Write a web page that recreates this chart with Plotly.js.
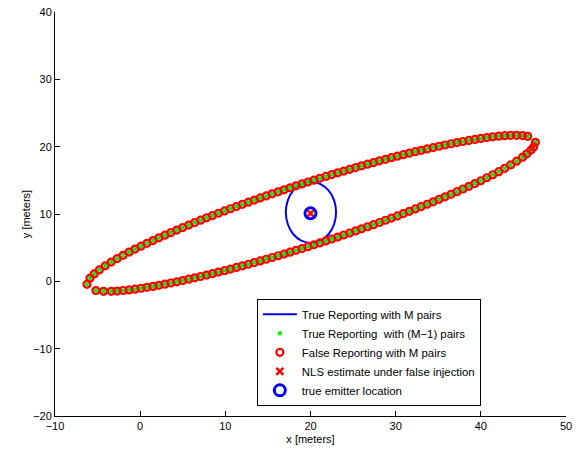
<!DOCTYPE html>
<html>
<head>
<meta charset="utf-8">
<script src="https://cdn.plot.ly/plotly-3.0.1.min.js"></script>
<style>html,body{margin:0;padding:0;background:#fff;}#chart{width:585px;height:450px;}</style>
</head>
<body>
<div id="chart"></div>
<script>
// Upper edge of the false-reporting locus (x, y in meters)
var upperX = [-5.9, -5.4, -4.8, -4.1,
  -3.4, -2.7, -2.0, -1.3, -0.6, 0.1, 0.8, 1.5, 2.2, 2.9, 3.6, 4.3, 5.0, 5.7, 6.4, 7.1, 7.8, 8.5, 9.2, 9.9,
  10.6, 11.3, 12.0, 12.7, 13.4, 14.1, 14.8, 15.5, 16.2, 16.9, 17.6, 18.3, 19.0, 19.7, 20.4, 21.1, 21.8, 22.5,
  23.2, 23.9, 24.6, 25.3, 26.0, 26.7, 27.4, 28.1, 28.8, 29.5, 30.2, 30.9, 31.6, 32.3, 33.0, 33.7, 34.4, 35.1,
  35.8, 36.5, 37.2, 37.9, 38.6, 39.3, 40.0, 40.7, 41.4, 42.1, 42.8, 43.5, 44.2, 44.9, 45.5];
var upperY = [0.47, 1.10, 1.70, 2.31,
  2.86, 3.38, 3.87, 4.34, 4.79, 5.22, 5.64, 6.06, 6.46, 6.85, 7.24, 7.62, 7.99, 8.36, 8.72, 9.08, 9.43, 9.77, 10.11, 10.45,
  10.78, 11.11, 11.43, 11.75, 12.07, 12.38, 12.69, 12.99, 13.29, 13.59, 13.89, 14.18, 14.46, 14.75, 15.03, 15.31, 15.58, 15.85,
  16.12, 16.38, 16.64, 16.90, 17.15, 17.40, 17.64, 17.89, 18.12, 18.36, 18.59, 18.81, 19.03, 19.25, 19.46, 19.67, 19.87, 20.06,
  20.25, 20.43, 20.61, 20.77, 20.93, 21.08, 21.22, 21.35, 21.46, 21.56, 21.63, 21.68, 21.69, 21.65, 21.54];
// Lower edge
var lowerX = [-5.2, -4.3,
  -3.4, -2.7, -2.0, -1.3, -0.6, 0.1, 0.8, 1.5, 2.2, 2.9, 3.6, 4.3, 5.0, 5.7, 6.4, 7.1, 7.8, 8.5, 9.2, 9.9,
  10.6, 11.3, 12.0, 12.7, 13.4, 14.1, 14.8, 15.5, 16.2, 16.9, 17.6, 18.3, 19.0, 19.7, 20.4, 21.1, 21.8, 22.5,
  23.2, 23.9, 24.6, 25.3, 26.0, 26.7, 27.4, 28.1, 28.8, 29.5, 30.2, 30.9, 31.6, 32.3, 33.0, 33.7, 34.4, 35.1,
  35.8, 36.5, 37.2, 37.9, 38.6, 39.3, 40.0, 40.7, 41.4, 42.1, 42.8, 43.5, 44.2, 44.9, 45.4, 45.9, 46.2];
var lowerY = [-1.37, -1.48,
  -1.48, -1.44, -1.36, -1.27, -1.16, -1.03, -0.89, -0.75, -0.59, -0.42, -0.25, -0.07, 0.12, 0.32, 0.52, 0.72, 0.93, 1.15, 1.37, 1.59,
  1.82, 2.06, 2.30, 2.54, 2.78, 3.03, 3.28, 3.54, 3.80, 4.06, 4.33, 4.60, 4.87, 5.15, 5.43, 5.71, 6.00, 6.29,
  6.58, 6.88, 7.18, 7.49, 7.80, 8.11, 8.42, 8.74, 9.07, 9.39, 9.72, 10.06, 10.40, 10.75, 11.10, 11.45, 11.81, 12.18,
  12.55, 12.93, 13.31, 13.71, 14.11, 14.52, 14.94, 15.38, 15.83, 16.29, 16.78, 17.29, 17.84, 18.44, 18.93, 19.50, 19.96];
// Tips of the locus
var tipX = [-6.25, 46.41];
var tipY = [-0.45, 20.65];
// True reporting with M pairs (blue contour)
var contourX = [23.00, 22.78, 22.14, 21.18, 20.05, 18.92, 17.96, 17.33, 17.10, 17.33, 17.96, 18.92, 20.05, 21.18, 22.14, 22.78, 23.00];
var contourY = [10.25, 11.99, 13.47, 14.45, 14.80, 14.45, 13.47, 11.99, 10.25, 8.51, 7.03, 6.05, 5.70, 6.05, 7.03, 8.51, 10.25];
// NLS estimate and true emitter
var nlsX = [20.0], nlsY = [10.1];
var emitterX = [20.0], emitterY = [10.1];
var xTicks = [-10, 0, 10, 20, 30, 40, 50];
var yTicks = [-20, -10, 0, 10, 20, 30, 40];
var legendNames = ["True Reporting with M pairs", "True Reporting  with (M\u22121) pairs",
  "False Reporting with M pairs", "NLS estimate under false injection", "true emitter location"];

var locX = tipX.slice(0,1).concat(upperX, tipX.slice(1), lowerX.slice().reverse());
var locY = tipY.slice(0,1).concat(upperY, tipY.slice(1), lowerY.slice().reverse());

var traces = [
  {x: contourX, y: contourY, mode: 'lines', name: legendNames[0],
   line: {color: '#0000ff', width: 2, shape: 'spline'}},
  {x: locX, y: locY, mode: 'markers', name: legendNames[1],
   marker: {symbol: 'x-thin', size: 3.5, color: '#00ff00', line: {color: '#00ee00', width: 2}}},
  {x: locX, y: locY, mode: 'markers', name: legendNames[2],
   marker: {symbol: 'circle-open', size: 7, color: '#ff0000', line: {color: '#ff0000', width: 2.2}}},
  {x: nlsX, y: nlsY, mode: 'markers', name: legendNames[3],
   marker: {symbol: 'x-thin', size: 7, color: '#ff0000', line: {color: '#ff0000', width: 2.5}}},
  {x: emitterX, y: emitterY, mode: 'markers', name: legendNames[4],
   marker: {symbol: 'circle-open', size: 11, color: '#0000ff', line: {color: '#0000ff', width: 3}}}
];

var axisFont = {family: 'Liberation Sans, Arial, sans-serif', size: 11, color: '#000'};
var layout = {
  width: 585, height: 450,
  margin: {l: 55, r: 19, t: 12, b: 34},
  paper_bgcolor: '#fff', plot_bgcolor: '#fff',
  font: axisFont,
  showlegend: true,
  legend: {x: 0.395, y: 0.29, xanchor: 'left', yanchor: 'top',
    bgcolor: 'rgba(255,255,255,0)', bordercolor: '#000', borderwidth: 1,
    font: {family: 'Liberation Sans, Arial, sans-serif', size: 11.4, color: '#000'},
    tracegroupgap: 0, itemwidth: 34},
  xaxis: {range: [-10, 50], tickmode: 'array', tickvals: xTicks,
    ticks: 'inside', ticklen: 5, tickcolor: '#000', showline: true, linecolor: '#000', linewidth: 1,
    showgrid: false, zeroline: false, tickfont: axisFont,
    title: {text: 'x [meters]', font: axisFont, standoff: 4}},
  yaxis: {range: [-20, 40], tickmode: 'array', tickvals: yTicks,
    ticks: 'inside', ticklen: 5, tickcolor: '#000', showline: true, linecolor: '#000', linewidth: 1,
    showgrid: false, zeroline: false, tickfont: axisFont,
    title: {text: 'y [meters]', font: axisFont, standoff: 0}}
};
Plotly.newPlot('chart', traces, layout, {displayModeBar: false, staticPlot: true});
</script>
</body>
</html>
